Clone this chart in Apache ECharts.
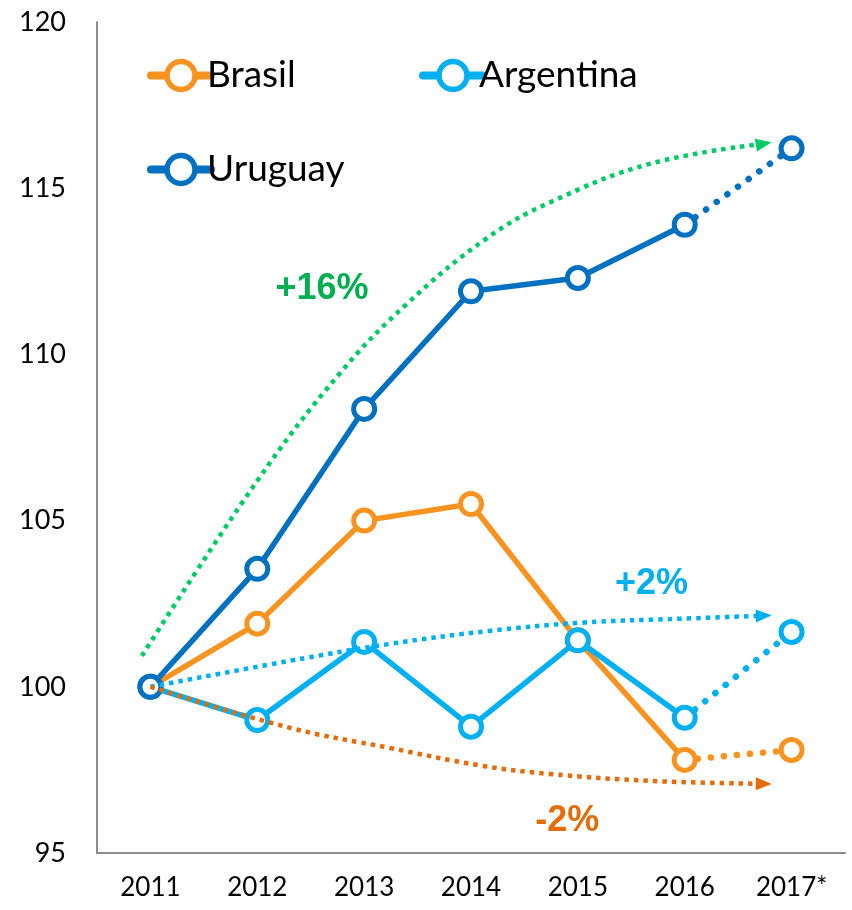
<!DOCTYPE html>
<html>
<head>
<meta charset="utf-8">
<script src="https://cdn.jsdelivr.net/npm/echarts@6/dist/echarts.min.js"></script>
<style>
  html, body { margin: 0; padding: 0; background: #fff; }
  #chart { width: 852px; height: 910px; }
</style>
</head>
<body>
<div id="chart"></div>
<script>
// categories and tick labels
const years = ["2011", "2012", "2013", "2014", "2015", "2016", "2017*"];
const yTicks = [95, 100, 105, 110, 115, 120];

// index values (2011 = 100)
const brasil    = [100, 101.9, 105.0, 105.5, 101.4, 97.8, 98.1];
const argentina = [100, 99.0, 101.35, 98.8, 101.4, 99.07, 101.65];
const uruguay   = [100, 103.55, 108.36, 111.9, 112.3, 113.9, 116.2];

// trend arrows, [category position, value]
const trendUruguay = [[-0.08, 100.93], [1.0, 106.2], [1.77, 109.42], [2.4, 111.52], [3.15, 113.5], [3.73, 114.56], [4.67, 115.73], [5.74, 116.34]];
const trendArgentina = [[0, 100], [1.3, 100.78], [2.24, 101.29], [3.17, 101.68], [4.04, 101.93], [4.98, 102.05], [5.74, 102.14]];
const trendBrasil = [[0, 100], [1.3, 98.77], [2.24, 98.16], [3.11, 97.62], [3.73, 97.38], [4.67, 97.17], [5.74, 97.08]];

// trend labels, [category position, value, text, colour]
const trendLabels = [
  [1.605, 111.97, "+16%", "#00B050"],
  [4.69, 103.1, "+2%", "#00B0F0"],
  [3.9, 95.97, "-2%", "#E46C0A"]
];

const colors = { Brasil: "#F7931E", Argentina: "#00B0F0", Uruguay: "#0070C0" };
const font = "Lato, 'Open Sans', sans-serif";

const chart = echarts.init(document.getElementById("chart"));

// solid part 2011-2016, dotted part 2016-2017
function countrySeries(name, values) {
  const solid = values.map((v, i) => (i < values.length - 1 ? v : "-"));
  const proj = values.map((v, i) => {
    if (i === values.length - 2) return { value: v, symbol: "none" };
    if (i === values.length - 1) return v;
    return "-";
  });
  const base = {
    name: name,
    type: "line",
    symbol: "circle",
    symbolSize: 21,
    itemStyle: { color: "#fff", borderColor: colors[name], borderWidth: 5 },
    z: 3
  };
  return [
    Object.assign({}, base, { data: solid, lineStyle: { color: colors[name], width: 5.5 } }),
    Object.assign({}, base, {
      data: proj,
      lineStyle: { color: colors[name], width: 6.5, type: [0.1, 13], cap: "round" }
    })
  ];
}

function trendSeries(points, color) {
  const last = points.length - 1;
  const a = points[last - 1], b = points[last];
  return {
    type: "line",
    xAxisIndex: 1,
    smooth: 0.4,
    silent: true,
    z: 4,
    data: points.map((p, i) =>
      i === last ? { value: p, symbol: "triangle", symbolSize: [13, 16] } : { value: p, symbol: "none" }
    ),
    symbolRotate: -90 + Math.atan2((b[1] - a[1]) * 33.2, (b[0] - a[0]) * 107) * 180 / Math.PI,
    itemStyle: { color: color },
    lineStyle: { color: color, width: 4.5, type: [4.5, 5] }
  };
}

const option = {
  animation: false,
  backgroundColor: "#fff",
  grid: { left: 97, right: 7, top: 22, bottom: 57, containLabel: false },
  legend: [
    { data: ["Brasil"], left: 142, top: 52 },
    { data: ["Argentina"], left: 414, top: 52 },
    { data: ["Uruguay"], left: 142, top: 146 }
  ].map(l => Object.assign(l, {
    itemWidth: 60, itemHeight: 35, itemGap: 0,
    lineStyle: { width: 8, cap: "round" },
    itemStyle: { borderWidth: 5.5 },
    textStyle: { fontSize: 37, color: "#000", fontFamily: font, padding: [0, 0, 0, -9] }
  })),
  xAxis: [
    {
      type: "category",
      data: years,
      boundaryGap: true,
      axisLine: { lineStyle: { color: "#8c8c8c", width: 2 } },
      axisTick: { show: false },
      axisLabel: { fontSize: 26, color: "#000", margin: 22, fontFamily: font }
    },
    { type: "value", min: -0.5, max: 6.5, show: false }
  ],
  yAxis: {
    type: "value",
    min: yTicks[0],
    max: yTicks[yTicks.length - 1],
    interval: 5,
    axisLine: { show: true, onZero: false, lineStyle: { color: "#8c8c8c", width: 2 } },
    axisTick: { show: false },
    splitLine: { show: false },
    axisLabel: { fontSize: 27, color: "#000", margin: 31, fontFamily: font }
  },
  series: [
    trendSeries(trendUruguay, "#00CC66"),
    trendSeries(trendArgentina, "#00B0F0"),
    trendSeries(trendBrasil, "#E46C0A"),
    ...countrySeries("Brasil", brasil),
    ...countrySeries("Argentina", argentina),
    ...countrySeries("Uruguay", uruguay),
    {
      type: "scatter",
      xAxisIndex: 1,
      symbol: "circle",
      symbolSize: 2,
      itemStyle: { color: "rgba(255,255,255,0)" },
      silent: true,
      z: 5,
      data: trendLabels.map(t => ({
        value: [t[0], t[1]],
        label: {
          show: true, position: "inside", formatter: t[2], opacity: 1,
          color: t[3], fontSize: 36, fontWeight: "bold", fontFamily: "'Liberation Sans', Arial, sans-serif"
        }
      }))
    }
  ]
};

chart.setOption(option);
</script>
</body>
</html>
